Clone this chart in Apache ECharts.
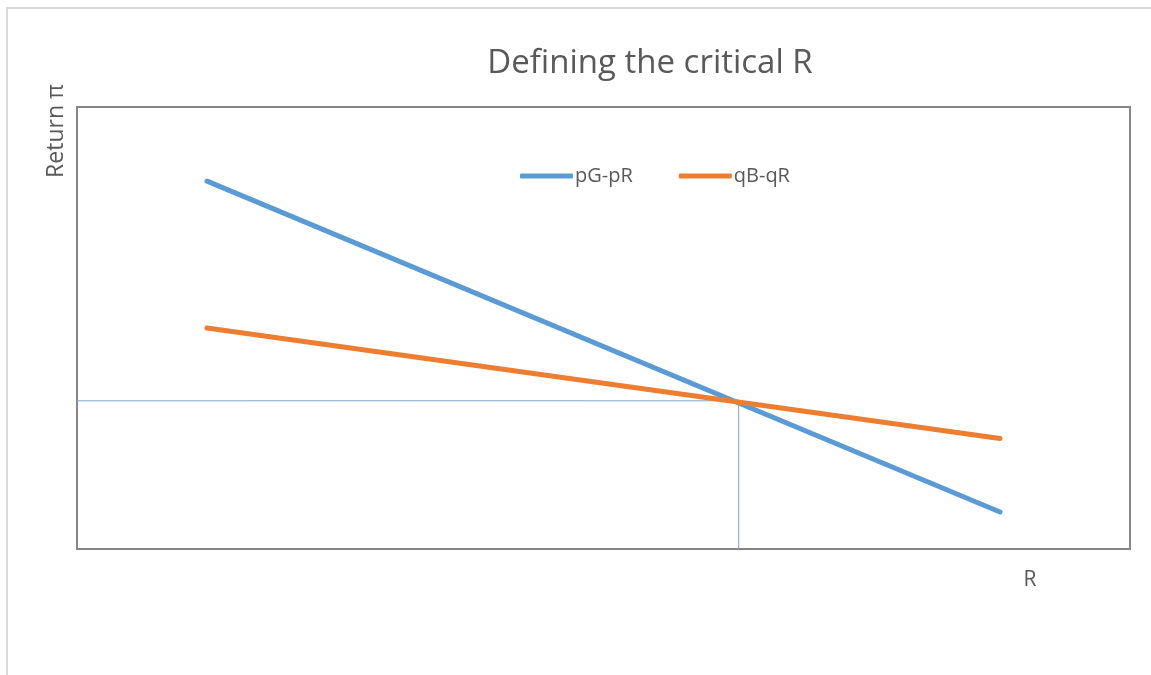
<!DOCTYPE html>
<html>
<head>
<meta charset="utf-8">
<title>Defining the critical R</title>
<script src="https://cdn.jsdelivr.net/npm/echarts@6/dist/echarts.min.js"></script>
<style>
  html, body { margin: 0; padding: 0; background: #ffffff; }
  #chart { width: 1151px; height: 675px; }
</style>
</head>
<body>
<div id="chart"></div>
<script>
// Loan rate R on the horizontal axis, return π on the vertical axis (arbitrary units)
const seriesNames = ['pG-pR', 'qB-qR'];
const rValues = [10, 71];
const goodReturn = [28.3, 2.85];   // pG - pR
const badReturn = [17, 8.5];       // qB - qR
// Where the two returns cross: the critical R
const criticalR = 50.9;
const criticalReturn = 11.4;
const xRange = [0, 81];
const yRange = [0, 34];

const pairs = (xs, ys) => xs.map((x, i) => [x, ys[i]]);

const chart = echarts.init(document.getElementById('chart'), null, { renderer: 'canvas' });
const font = '"Open Sans", "Liberation Sans", sans-serif';
const colors = ['#5b9bd5', '#ed7d31'];

chart.setOption({
  backgroundColor: '#ffffff',
  animation: false,
  title: {
    text: 'Defining the critical R',
    left: 645,
    textAlign: 'center',
    top: 42,
    textStyle: { fontFamily: font, fontSize: 33, fontWeight: 'normal', color: '#595959' }
  },
  legend: {
    data: seriesNames.map((n) => ({ name: n, icon: 'roundRect' })),
    left: 515,
    top: 161,
    itemWidth: 53,
    itemHeight: 5,
    itemGap: 46,
    textStyle: { fontFamily: font, fontSize: 20, color: '#595959', padding: [0, 0, 0, -3] }
  },
  grid: {
    left: 77, top: 107, width: 1053, height: 442,
    show: true, borderColor: '#868686', borderWidth: 2, backgroundColor: 'transparent'
  },
  xAxis: {
    type: 'value', min: xRange[0], max: xRange[1],
    axisLine: { show: false }, axisTick: { show: false },
    axisLabel: { show: false }, splitLine: { show: false }
  },
  yAxis: {
    type: 'value', min: yRange[0], max: yRange[1],
    axisLine: { show: false }, axisTick: { show: false },
    axisLabel: { show: false }, splitLine: { show: false }
  },
  graphic: [
    {
      type: 'rect', silent: true,
      shape: { x: 7, y: 8, width: 1300, height: 800 },
      style: { fill: 'none', stroke: '#d9d9d9', lineWidth: 2 }
    },
    {
      type: 'text', x: 56, y: 131, rotation: Math.PI / 2,
      style: { text: 'Return π', fontFamily: font, fontSize: 23, fill: '#595959',
               align: 'center', verticalAlign: 'middle' }
    },
    {
      type: 'text', x: 1030, y: 580,
      style: { text: 'R', fontFamily: font, fontSize: 21, fill: '#595959',
               align: 'center', verticalAlign: 'middle' }
    }
  ],
  series: [
    {
      // guide lines marking the critical point
      name: 'critical', type: 'line', silent: true, z: 1,
      symbol: 'none',
      data: [[xRange[0], criticalReturn], [criticalR, criticalReturn], [criticalR, yRange[0]]],
      lineStyle: { color: '#7ea3cc', width: 1 }
    },
    {
      name: seriesNames[0], type: 'line', z: 3, symbol: 'none',
      data: pairs(rValues, goodReturn),
      itemStyle: { color: colors[0] },
      lineStyle: { color: colors[0], width: 5, cap: 'round' }
    },
    {
      name: seriesNames[1], type: 'line', z: 4, symbol: 'none',
      data: pairs(rValues, badReturn),
      itemStyle: { color: colors[1] },
      lineStyle: { color: colors[1], width: 5, cap: 'round' }
    }
  ]
});
</script>
</body>
</html>
